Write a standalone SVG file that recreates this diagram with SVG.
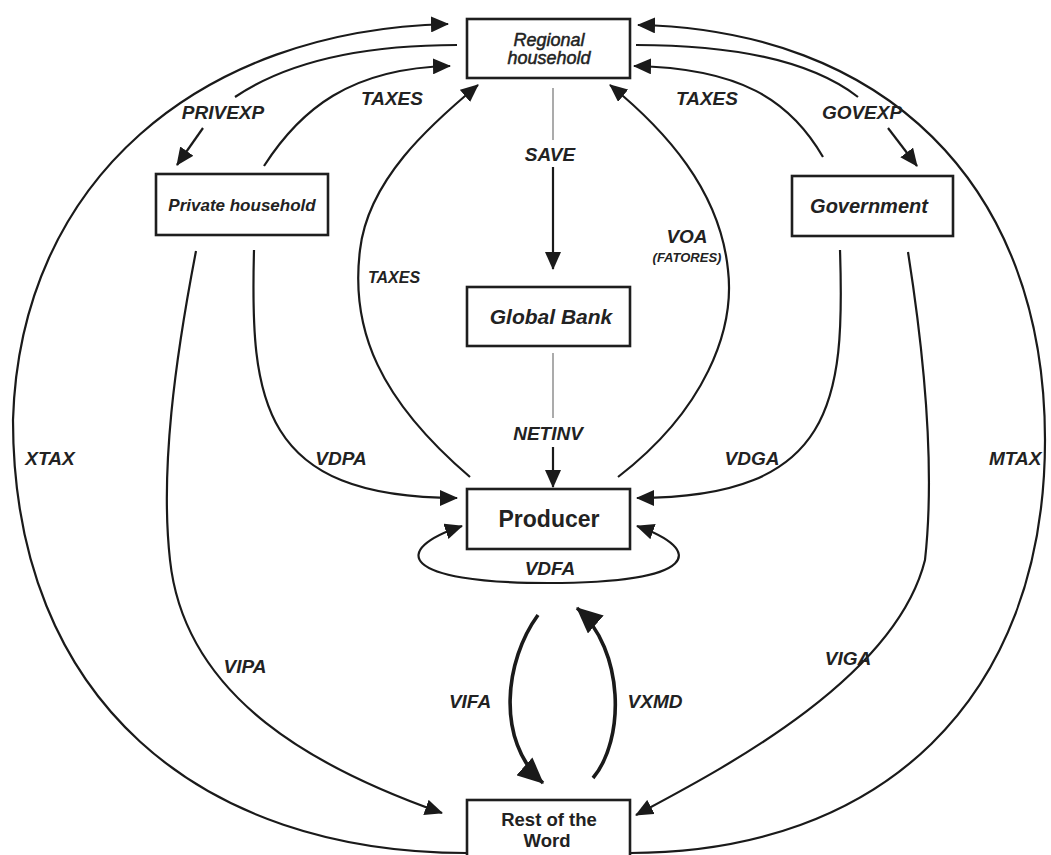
<svg xmlns="http://www.w3.org/2000/svg" width="1051" height="855" viewBox="0 0 1051 855">
<defs>
<style>
.bx{fill:#fff;stroke:#1e1e1e;stroke-width:2.6}
.ln{fill:none;stroke:#1a1a1a;stroke-width:2.2}
.thick{fill:none;stroke:#1a1a1a;stroke-width:3.6}
.thin{fill:none;stroke:#666;stroke-width:1.1}
.lb{font-family:"Liberation Sans",Arial,sans-serif;font-weight:bold;font-style:italic;font-size:19px;fill:#222;text-anchor:middle}
.sm{font-size:16px}
.xs{font-size:13px}
.nt{font-family:"Liberation Sans",Arial,sans-serif;fill:#222;text-anchor:middle}
</style>
<marker id="ah" markerUnits="userSpaceOnUse" markerWidth="18" markerHeight="16" viewBox="0 0 18 16" refX="17" refY="8" orient="auto"><path d="M0,0 L18,8 L0,16 z" fill="#1a1a1a"/></marker>
<marker id="ahs" markerUnits="userSpaceOnUse" markerWidth="18" markerHeight="16" viewBox="0 0 18 16" refX="17" refY="8" orient="auto-start-reverse"><path d="M0,0 L18,8 L0,16 z" fill="#1a1a1a"/></marker>
<marker id="ahb" markerUnits="userSpaceOnUse" markerWidth="26" markerHeight="24" viewBox="0 0 26 24" refX="25" refY="12" orient="auto"><path d="M0,0 L26,12 L0,24 z" fill="#1a1a1a"/></marker>
</defs>
<rect width="1051" height="855" fill="#fff"/>

<g id="connectors">
<!-- XTAX -->
<path class="ln" d="M467,853 C200,853 13,700 13,420 C20,180 200,30 448,24" marker-end="url(#ah)"/>
<!-- MTAX -->
<path class="ln" d="M630,853 C880,853 1045,700 1045,440 C1045,180 880,30 638,25" marker-end="url(#ah)"/>
<!-- PRIVEXP -->
<path class="ln" d="M457,45 C370,45 290,60 235,97"/>
<path class="ln" d="M203,128 L177,165" marker-end="url(#ah)"/>
<!-- TAXES private -->
<path class="ln" d="M264,166 C300,110 350,68 450,66" marker-end="url(#ah)"/>
<!-- GOVEXP -->
<path class="ln" d="M636,45 C730,45 810,60 858,97"/>
<path class="ln" d="M888,128 L917,166" marker-end="url(#ah)"/>
<!-- TAXES gov -->
<path class="ln" d="M823,157 C790,100 740,68 634,66" marker-end="url(#ah)"/>
<!-- TAXES inner -->
<path class="ln" d="M470,477 C380,400 350,330 360,250 C368,180 430,125 478,85" marker-end="url(#ah)"/>
<!-- VOA -->
<path class="ln" d="M618,477 C705,410 735,330 728,270 C720,190 665,130 610,85" marker-end="url(#ah)"/>
<!-- SAVE -->
<path class="thin" d="M553,88 L553,140"/>
<path class="ln" d="M553,167 L553,269" marker-end="url(#ah)"/>
<!-- NETINV -->
<path class="thin" d="M553,353 L553,418"/>
<path class="ln" d="M553,447 L553,487" marker-end="url(#ah)"/>
<!-- VDPA -->
<path class="ln" d="M254,250 C250,400 260,498 457,498" marker-end="url(#ah)"/>
<!-- VDGA -->
<path class="ln" d="M840,250 C845,400 835,498 637,498" marker-end="url(#ah)"/>
<!-- VIPA -->
<path class="ln" d="M196,251 C175,360 160,470 170,560 C185,700 320,770 442,813" marker-end="url(#ah)"/>
<!-- VIGA -->
<path class="ln" d="M908,252 C925,360 935,470 925,560 C895,680 720,770 636,815" marker-end="url(#ah)"/>
<!-- VDFA -->
<path class="ln" d="M462,526 C390,550 400,583 548,583 C700,583 705,550 637,526" marker-start="url(#ahs)" marker-end="url(#ah)"/>
<!-- VIFA -->
<path class="thick" d="M538,615 C505,660 495,740 543,783" marker-end="url(#ahb)"/>
<!-- VXMD -->
<path class="thick" d="M593,778 C625,740 625,650 577,608" marker-end="url(#ahb)"/>
</g>

<g id="labels">
<text class="lb" x="223" y="119">PRIVEXP</text>
<text class="lb" x="392" y="105">TAXES</text>
<text class="lb" x="707" y="105">TAXES</text>
<text class="lb" x="862" y="119">GOVEXP</text>
<text class="lb" x="550" y="161">SAVE</text>
<text class="lb sm" x="394" y="283">TAXES</text>
<text class="lb" x="687" y="243">VOA</text>
<text class="lb xs" x="687" y="262">(FATORES)</text>
<text class="lb" x="548" y="440">NETINV</text>
<text class="lb" x="50" y="465">XTAX</text>
<text class="lb" x="341" y="465">VDPA</text>
<text class="lb" x="752" y="465">VDGA</text>
<text class="lb" x="989" y="465" style="text-anchor:start">MTAX</text>
<text class="lb" x="550" y="575">VDFA</text>
<text class="lb" x="245" y="673">VIPA</text>
<text class="lb" x="848" y="665">VIGA</text>
<text class="lb" x="470" y="708">VIFA</text>
<text class="lb" x="655" y="708">VXMD</text>
</g>

<g id="regional-household">
<rect class="bx" x="467" y="19" width="163" height="59"/>
<text class="nt" x="549" y="46" font-size="18" font-style="italic" stroke="#222" stroke-width="0.5">Regional</text>
<text class="nt" x="549" y="64" font-size="18" font-style="italic" stroke="#222" stroke-width="0.5">household</text>
</g>

<g id="private-household">
<rect class="bx" x="156" y="174" width="172" height="61"/>
<text class="nt" x="242" y="211" font-size="17" font-weight="bold" font-style="italic">Private household</text>
</g>

<g id="government">
<rect class="bx" x="792" y="176" width="161" height="60"/>
<text class="nt" x="869" y="213" font-size="20" font-weight="bold" font-style="italic">Government</text>
</g>

<g id="global-bank">
<rect class="bx" x="467" y="287" width="163" height="59"/>
<text class="nt" x="551" y="324" font-size="21" font-weight="bold" font-style="italic">Global Bank</text>
</g>

<g id="producer">
<rect class="bx" x="467" y="489" width="163" height="60"/>
<text class="nt" x="549" y="527" font-size="23" font-weight="bold">Producer</text>
</g>

<g id="rest-of-the-word">
<rect class="bx" x="467" y="800" width="163" height="70"/>
<text class="nt" x="549" y="826" font-size="18.5" font-weight="bold">Rest of the</text>
<text class="nt" x="547" y="847" font-size="18.5" font-weight="bold">Word</text>
</g>
</svg>
